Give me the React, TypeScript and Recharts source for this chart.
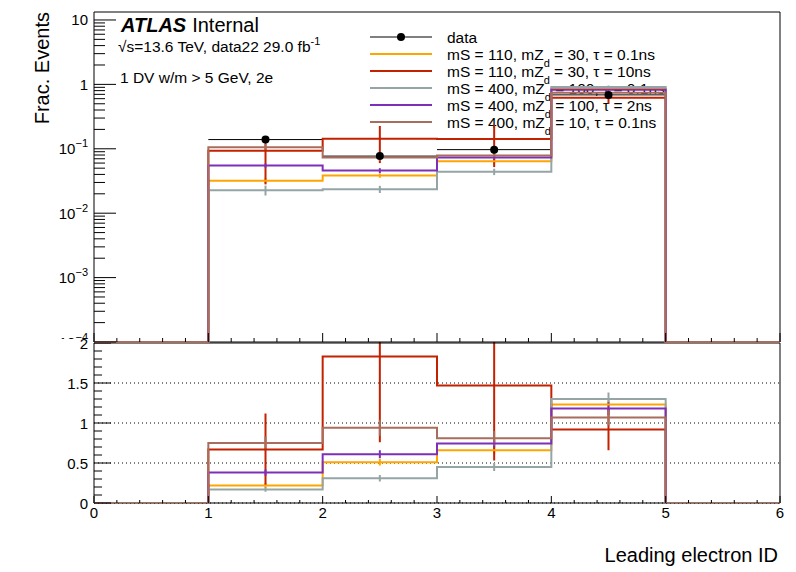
import React from 'react';
import { ComposedChart, Line, Scatter, XAxis, YAxis, ErrorBar, ReferenceLine } from 'recharts';

// bins of the leading electron ID
const binEdges = [0, 1, 2, 3, 4, 5, 6];
const binCenters = [0.5, 1.5, 2.5, 3.5, 4.5, 5.5];
const xMajorTicks = [0, 1, 2, 3, 4, 5, 6];
const logDecades = [1e-4, 1e-3, 1e-2, 1e-1, 1, 10];
const ratioMajorTicks = [0, 0.5, 1, 1.5, 2];

// fraction of events, data
const dataFrac = [0, 0.139, 0.077, 0.097, 0.687, 0];
const dataErr = [0, 0.006, 0.005, 0.006, 0.02, 0];

// fraction of events, signal samples
const fracS110Z30t01 = [0, 0.032, 0.0385, 0.064, 0.865, 0];
const fracS110Z30t10 = [0, 0.093, 0.143, 0.142, 0.622, 0];
const fracS400Z100t01 = [0, 0.0228, 0.0236, 0.044, 0.91, 0];
const fracS400Z100t2 = [0, 0.055, 0.046, 0.073, 0.826, 0];
const fracS400Z10t01 = [0, 0.106, 0.073, 0.079, 0.742, 0];

const errS110Z30t01 = [0, 0.003, 0.003, 0.005, 0.03, 0];
const errS110Z30t10 = [0, 0.065, 0.083, 0.09, 0.12, 0];
const errS400Z100t01 = [0, 0.004, 0.003, 0.005, 0.05, 0];
const errS400Z100t2 = [0, 0.004, 0.004, 0.005, 0.04, 0];
const errS400Z10t01 = [0, 0.012, 0.008, 0.008, 0.06, 0];

// ratio signal / data
const ratioS110Z30t01 = [0, 0.22, 0.51, 0.66, 1.23, 0];
const ratioS110Z30t10 = [0, 0.67, 1.83, 1.47, 0.92, 0];
const ratioS400Z100t01 = [0, 0.17, 0.31, 0.45, 1.3, 0];
const ratioS400Z100t2 = [0, 0.38, 0.61, 0.745, 1.18, 0];
const ratioS400Z10t01 = [0, 0.75, 0.94, 0.81, 1.07, 0];

const ratioErrS110Z30t01 = [0, 0.03, 0.04, 0.05, 0.08, 0];
const ratioErrS110Z30t10 = [0, 0.45, 1.07, 0.94, 0.26, 0];
const ratioErrS400Z100t01 = [0, 0.03, 0.04, 0.05, 0.08, 0];
const ratioErrS400Z100t2 = [0, 0.04, 0.05, 0.05, 0.08, 0];
const ratioErrS400Z10t01 = [0, 0.08, 0.1, 0.09, 0.1, 0];

const FONT = '"Liberation Sans", Arial, Helvetica, sans-serif';
const Y_MIN = 1e-4;
const Y_MAX = 13.3;

const series = [
  { key: 'o', mS: 110, mZd: 30, tau: '0.1ns', color: '#ffa500', frac: fracS110Z30t01, err: errS110Z30t01, ratio: ratioS110Z30t01, ratioErr: ratioErrS110Z30t01 },
  { key: 'r', mS: 110, mZd: 30, tau: '10ns', color: '#c32100', frac: fracS110Z30t10, err: errS110Z30t10, ratio: ratioS110Z30t10, ratioErr: ratioErrS110Z30t10 },
  { key: 'g', mS: 400, mZd: 100, tau: '0.1ns', color: '#95a5a6', frac: fracS400Z100t01, err: errS400Z100t01, ratio: ratioS400Z100t01, ratioErr: ratioErrS400Z100t01 },
  { key: 'p', mS: 400, mZd: 100, tau: '2ns', color: '#7e2fb8', frac: fracS400Z100t2, err: errS400Z100t2, ratio: ratioS400Z100t2, ratioErr: ratioErrS400Z100t2 },
  { key: 'b', mS: 400, mZd: 10, tau: '0.1ns', color: '#a86d5c', frac: fracS400Z10t01, err: errS400Z10t01, ratio: ratioS400Z10t01, ratioErr: ratioErrS400Z10t01 },
];

// step rows: value at each left edge, last edge repeats the last bin
const stepRows = (vals: number[], floor: number) =>
  binEdges.map((x, i) => {
    const v = vals[Math.min(i, vals.length - 1)];
    return { x, y: v > 0 ? v : floor };
  });

const errPoints = (vals: number[], errs: number[]) =>
  binCenters
    .map((x, i) => ({ x, y: vals[i], err: errs[i], xerr: (binEdges[i + 1] - binEdges[i]) / 2 }))
    .filter((p) => p.y > 0);

const xTicks: number[] = [];
for (let i = 0; i < xMajorTicks.length - 1; i++) {
  for (let k = 0; k < 5; k++) xTicks.push(xMajorTicks[i] + k * 0.2);
}
xTicks.push(xMajorTicks[xMajorTicks.length - 1]);

const logTicks: number[] = [];
logDecades.forEach((d, i) => {
  if (i === logDecades.length - 1) {
    logTicks.push(d);
    return;
  }
  for (let k = 1; k < 10; k++) logTicks.push(k * d);
});

const ratioTicks: number[] = [];
for (let i = 0; i < ratioMajorTicks.length - 1; i++) {
  for (let k = 0; k < 5; k++) ratioTicks.push(ratioMajorTicks[i] + k * 0.1);
}
ratioTicks.push(ratioMajorTicks[ratioMajorTicks.length - 1]);

const isInt = (v: number) => Math.abs(v - Math.round(v)) < 1e-6;
const isDecade = (v: number) => Math.abs(Math.log10(v) - Math.round(Math.log10(v))) < 1e-6;
const isHalf = (v: number) => Math.abs(v * 2 - Math.round(v * 2)) < 1e-6;

const renderXTick = (side: 'bottom' | 'top', majorLen: number, minorLen: number, showLabel: boolean) =>
  (props: any) => {
    const { x, y, payload } = props;
    const v = payload.value;
    const major = isInt(v);
    const d = side === 'bottom' ? -1 : 1;
    return (
      <g>
        <line x1={x} x2={x} y1={y} y2={y + d * (major ? majorLen : minorLen)} stroke="#000" />
        {showLabel && major && (
          <text x={x} y={y + 15} textAnchor="middle" fontSize={15} fontFamily={FONT} fill="#000">
            {Math.round(v)}
          </text>
        )}
      </g>
    );
  };

const logLabel = (v: number) => {
  const e = Math.round(Math.log10(v));
  if (e === 1) return <>10</>;
  if (e === 0) return <>1</>;
  return (
    <>
      10<tspan dy={-7} fontSize={11}>{'\u2212' + Math.abs(e)}</tspan>
    </>
  );
};

const renderYTick = (
  side: 'left' | 'right',
  isMajor: (v: number) => boolean,
  majorLen: number,
  minorLen: number,
  label: ((v: number) => React.ReactNode) | null,
  clipBottom?: number,
) =>
  (props: any) => {
    const { x, y, payload } = props;
    const v = payload.value;
    const major = isMajor(v);
    const d = side === 'left' ? 1 : -1;
    const clipped = clipBottom !== undefined && y + 8 > clipBottom;
    return (
      <g>
        <line x1={x} x2={x + d * (major ? majorLen : minorLen)} y1={y} y2={y} stroke="#000" />
        {label && major && (
          <>
            {clipped && (
              <defs>
                <clipPath id="upper-label-clip">
                  <rect x={0} y={0} width={94} height={clipBottom} />
                </clipPath>
              </defs>
            )}
            <text
              x={x - 6}
              y={y + 5.5}
              textAnchor="end"
              fontSize={15}
              fontFamily={FONT}
              fill="#000"
              clipPath={clipped ? 'url(#upper-label-clip)' : undefined}
            >
              {label(v)}
            </text>
          </>
        )}
      </g>
    );
  };

const invisible = () => <g />;
const dataDot = (p: any) => <circle cx={p.cx} cy={p.cy} r={4} fill="#000" />;

const axisLine = { stroke: '#000', strokeWidth: 1 };

const SignalLabel = ({ s, x, y }: { s: (typeof series)[number]; x: number; y: number }) => (
  <text x={x} y={y} fontSize={15.5} fontFamily={FONT} fill="#000">
    {`mS = ${s.mS}, mZ`}
    <tspan dy={7} fontSize={11}>d</tspan>
    <tspan dy={-7}>{` = ${s.mZd}, \u03c4 = ${s.tau}`}</tspan>
  </text>
);

// axes need a non-zero size to be drawn, so each takes 1px of the margin
const axisCommon = {
  interval: 0 as const,
  tickSize: 0,
  tickMargin: 0,
  tickLine: false,
  axisLine,
};

// histograms sit above the frame, as in the ROOT plot
const HIST_Z = 550;

export default function App() {
  const legendX1 = 370;
  const legendX2 = 432;
  const legendText = 447;
  const rowY = (i: number) => 37 + i * 17;

  return (
    <div style={{ position: 'absolute', left: 0, top: 0, width: 796, height: 572, background: '#fff', overflow: 'hidden' }}>
      {/* ratio pad; error bars above the pad are cut off like in the original */}
      <div
        style={{
          position: 'absolute',
          left: 0,
          top: 302,
          clipPath: 'polygon(0 0, 92px 0, 92px 40px, 100% 40px, 100% 100%, 0 100%)',
        }}
      >
        <ComposedChart width={796} height={270} margin={{ top: 40, right: 15, bottom: 68, left: 93 }}>
          <XAxis
            {...axisCommon}
            xAxisId="b"
            dataKey="x"
            type="number"
            domain={[0, 6]}
            ticks={xTicks}
            height={1}
            tick={renderXTick('bottom', 7, 3, true)}
          />
          <XAxis
            {...axisCommon}
            xAxisId="t"
            orientation="top"
            type="number"
            domain={[0, 6]}
            ticks={xTicks}
            height={1}
            tick={renderXTick('top', 8, 5, false)}
          />
          <YAxis
            {...axisCommon}
            yAxisId="l"
            dataKey="y"
            type="number"
            domain={[0, 2]}
            allowDataOverflow
            ticks={ratioTicks}
            width={1}
            tick={renderYTick('left', isHalf, 17, 8, (v) => <>{v}</>)}
          />
          <YAxis
            {...axisCommon}
            yAxisId="r"
            orientation="right"
            type="number"
            domain={[0, 2]}
            ticks={ratioTicks}
            width={1}
            tick={renderYTick('right', isHalf, 17, 8, null)}
          />
          {[0, 0.5, 1, 1.5].map((v) => (
            <ReferenceLine key={v} xAxisId="b" yAxisId="l" y={v} stroke="#000" strokeDasharray="1 3" />
          ))}
          {series.map((s) => (
            <Line
              key={`rl-${s.key}`}
              xAxisId="b"
              yAxisId="l"
              data={stepRows(s.ratio, 0)}
              dataKey="y"
              type="stepAfter"
              stroke={s.color}
              strokeWidth={2}
              dot={false}
              isAnimationActive={false}
              zIndex={HIST_Z}
            />
          ))}
          {series.map((s) => (
            <Scatter
              key={`re-${s.key}`}
              xAxisId="b"
              yAxisId="l"
              data={errPoints(s.ratio, s.ratioErr)}
              shape={invisible}
              isAnimationActive={false}
            >
              <ErrorBar dataKey="err" direction="y" width={0} stroke={s.color} strokeWidth={2} />
            </Scatter>
          ))}
        </ComposedChart>
      </div>

      {/* legend, under the histograms */}
      <svg width={796} height={572} style={{ position: 'absolute', left: 0, top: 0 }}>
        <line x1={legendX1} x2={legendX2} y1={rowY(0)} y2={rowY(0)} stroke="#000" strokeWidth={1} />
        <circle cx={(legendX1 + legendX2) / 2} cy={rowY(0)} r={4} fill="#000" />
        <text x={legendText} y={rowY(0) + 5.5} fontSize={15.5} fontFamily={FONT} fill="#000">
          data
        </text>
        {series.map((s, i) => (
          <g key={`lg-${s.key}`}>
            <line x1={legendX1} x2={legendX2} y1={rowY(i + 1)} y2={rowY(i + 1)} stroke={s.color} strokeWidth={2} />
            <SignalLabel s={s} x={legendText} y={rowY(i + 1) + 5.5} />
          </g>
        ))}
      </svg>

      {/* main pad */}
      <div style={{ position: 'absolute', left: 0, top: 0 }}>
        <ComposedChart width={796} height={344} margin={{ top: 11, right: 15, bottom: 1, left: 93 }}>
          <XAxis
            {...axisCommon}
            xAxisId="b"
            dataKey="x"
            type="number"
            domain={[0, 6]}
            ticks={xTicks}
            height={1}
            tick={renderXTick('bottom', 9, 4, false)}
          />
          <XAxis
            {...axisCommon}
            xAxisId="t"
            orientation="top"
            type="number"
            domain={[0, 6]}
            ticks={xTicks}
            height={1}
            tick={renderXTick('top', 8, 4, false)}
          />
          <YAxis
            {...axisCommon}
            yAxisId="l"
            dataKey="y"
            type="number"
            scale="log"
            domain={[Y_MIN, Y_MAX]}
            ticks={logTicks}
            width={1}
            tick={renderYTick('left', isDecade, 22, 11, logLabel, 339)}
          />
          <YAxis
            {...axisCommon}
            yAxisId="r"
            orientation="right"
            type="number"
            scale="log"
            domain={[Y_MIN, Y_MAX]}
            ticks={logTicks}
            width={1}
            tick={renderYTick('right', isDecade, 24, 12, null)}
          />
          {series.map((s) => (
            <Line
              key={`ml-${s.key}`}
              xAxisId="b"
              yAxisId="l"
              data={stepRows(s.frac, Y_MIN)}
              dataKey="y"
              type="stepAfter"
              stroke={s.color}
              strokeWidth={2}
              dot={false}
              isAnimationActive={false}
              zIndex={HIST_Z}
            />
          ))}
          <Scatter
            xAxisId="b"
            yAxisId="l"
            data={errPoints(dataFrac, dataErr)}
            shape={dataDot}
            isAnimationActive={false}
          >
            <ErrorBar dataKey="xerr" direction="x" width={0} stroke="#000" strokeWidth={1} />
            <ErrorBar dataKey="err" direction="y" width={0} stroke="#000" strokeWidth={1} />
          </Scatter>
          {series.map((s) => (
            <Scatter
              key={`me-${s.key}`}
              xAxisId="b"
              yAxisId="l"
              data={errPoints(s.frac, s.err)}
              shape={invisible}
              isAnimationActive={false}
            >
              <ErrorBar dataKey="err" direction="y" width={0} stroke={s.color} strokeWidth={2} />
            </Scatter>
          ))}
        </ComposedChart>
      </div>

      {/* labels */}
      <svg width={796} height={572} style={{ position: 'absolute', left: 0, top: 0, pointerEvents: 'none' }}>
        <text x={121} y={32} fontSize={20} fontFamily={FONT} fill="#000">
          <tspan fontWeight="bold" fontStyle="italic">ATLAS</tspan>
          <tspan dx={6}>Internal</tspan>
        </text>
        <text x={118} y={52} fontSize={15.5} fontFamily={FONT} fill="#000">
          {'\u221as=13.6 TeV, data22 29.0 fb'}
          <tspan dy={-7} fontSize={11}>-1</tspan>
        </text>
        <text x={120} y={83} fontSize={15.5} fontFamily={FONT} fill="#000">
          1 DV w/m &gt; 5 GeV, 2e
        </text>
        <text
          transform="rotate(-90)"
          x={-12}
          y={49}
          textAnchor="end"
          fontSize={20}
          fontFamily={FONT}
          fill="#000"
        >
          Frac. Events
        </text>
        <text x={778} y={562} textAnchor="end" fontSize={20} fontFamily={FONT} fill="#000">
          Leading electron ID
        </text>
      </svg>
    </div>
  );
}
